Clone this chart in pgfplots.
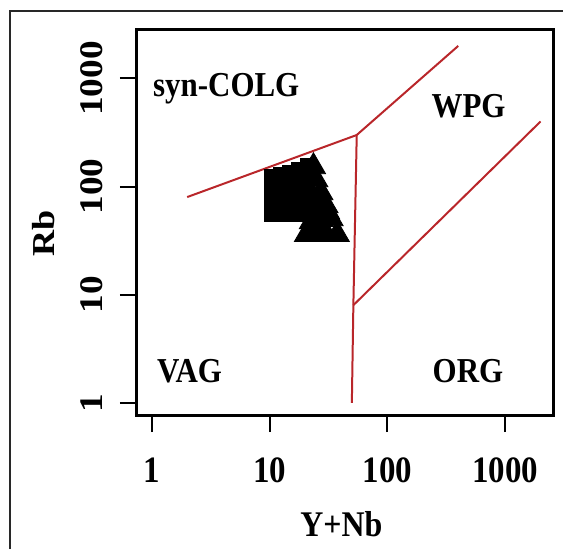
\documentclass[border=0pt]{standalone}
\usepackage{pgfplots}
\pgfplotsset{compat=1.18}
\usepackage{fontspec}
\setmainfont{Liberation Serif}
\definecolor{bred}{RGB}{185,38,42}
\definecolor{frame}{RGB}{40,40,40}
\begin{document}
\begin{tikzpicture}
\begin{axis}[
  scale only axis, width=208.5pt, height=193pt,
  at={(0,0)}, anchor=south west,
  xmode=log, ymode=log,
  xmin=0.746, xmax=2553, ymin=0.767, ymax=2811,
  xtick={1,10,100,1000}, xticklabels={1,10,100,1000},
  ytick={1,10,100,1000}, yticklabels={1,10,100,1000},
  xminorticks=false, yminorticks=false,
  tick pos=left, tick align=outside, major tick length=8.5pt,
  tick style={line width=1pt, black},
  axis line style={line width=1.5pt},
  xticklabel style={font=\fontsize{16.5}{18}\bfseries, yshift=-12.5pt, yscale=1.13, inner sep=0pt, anchor=north},
  yticklabel style={font=\fontsize{16.5}{18}\bfseries, xshift=-8.5pt, rotate=90, xscale=1.13, inner sep=0pt, anchor=south},
  xlabel={Y+Nb}, ylabel={Rb},
  xlabel style={font=\fontsize{16}{18}\bfseries, yscale=1.13, inner sep=0pt, at={(axis description cs:0.4916,-0.282)}, anchor=center},
  ylabel style={font=\fontsize{16}{18}\bfseries, rotate=0, xscale=1.13, inner sep=0pt, at={(axis description cs:-0.223,0.4715)}, anchor=center},
]
% boundaries
\addplot[bred, line width=1pt] coordinates {(2,80) (55,300) (400,2000)};
\addplot[bred, line width=1pt] coordinates {(55,300) (51.5,8) (50,1)};
\addplot[bred, line width=1pt] coordinates {(51.5,8) (2000,400)};
% samples: squares
\addplot[only marks, mark=square*, mark size=3.5pt, black] coordinates {
(10.40,123.4) (10.40,101.9) (10.40,80.7) (10.40,66.6) (10.40,55.0)
(12.40,128.8) (12.40,101.9) (12.40,80.7) (12.40,66.6) (12.40,55.0)
(14.77,134.4) (14.77,101.9) (14.77,80.7) (14.77,66.6) (14.77,55.0)
(17.61,143.2) (17.61,115.8) (17.61,87.8) (17.61,66.6) (17.61,55.0)
(20.99,156.0) (20.99,115.8) (20.99,87.8) (20.99,66.6) (19.80,93.6)
};
% samples: triangles
\addplot[only marks, mark=triangle*, mark size=7pt, black] coordinates {
(23.60,152.7) (24.69,115.8) (27.27,87.8) (30.12,66.6) (33.27,50.5) (37.62,35.97)
(20.58,35.97) (25.02,35.97) (30.41,35.97)
(25.51,68.1) (27.59,49.5) (22.70,47.4) (22.70,84.2)
(26.53,75.7) (31.01,58.7) (24.06,58.7) (25.51,44.5)
};
\node[font=\fontsize{15.5}{18}\bfseries, yscale=1.13, inner sep=0pt, anchor=base west] at (axis description cs:0.0384,0.8264) {syn-COLG};
\node[font=\fontsize{15.5}{18}\bfseries, yscale=1.13, inner sep=0pt, anchor=base west] at (axis description cs:0.7074,0.772) {WPG};
\node[font=\fontsize{15.5}{18}\bfseries, yscale=1.13, inner sep=0pt, anchor=base west] at (axis description cs:0.048,0.0855) {VAG};
\node[font=\fontsize{15.5}{18}\bfseries, yscale=1.13, inner sep=0pt, anchor=base west] at (axis description cs:0.710,0.0855) {ORG};
\end{axis}
\draw[frame, line width=1pt] (-63.5pt,-67pt) -- (-63.5pt,202.5pt) -- (213.5pt,202.5pt);
\path[use as bounding box] (-68.5pt,-67pt) rectangle (213.5pt,208pt);
\end{tikzpicture}
\end{document}
